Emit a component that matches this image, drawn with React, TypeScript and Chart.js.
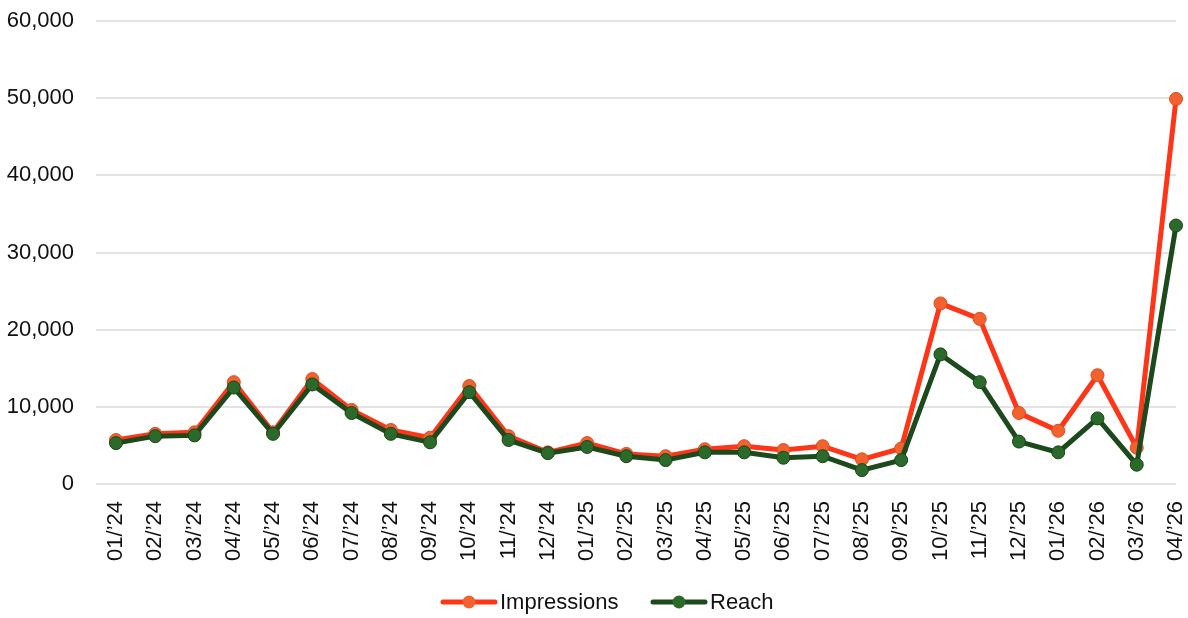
import React, { useEffect, useRef } from "react";
import { Chart, registerables } from "chart.js";

Chart.register(...registerables);

const months: string[] = [
  "01/’24", "02/’24", "03/’24", "04/’24", "05/’24", "06/’24", "07/’24", "08/’24", "09/’24", "10/’24", "11/’24", "12/’24",
  "01/’25", "02/’25", "03/’25", "04/’25", "05/’25", "06/’25", "07/’25", "08/’25", "09/’25", "10/’25", "11/’25", "12/’25",
  "01/’26", "02/’26", "03/’26", "04/’26",
];

const impressions: number[] = [
  5700, 6500, 6700, 13200, 6700, 13600, 9600, 7000, 6000, 12700, 6200, 4100,
  5300, 3900, 3600, 4500, 4900, 4400, 4900, 3200, 4600, 23400, 21400, 9200,
  6900, 14100, 4700, 49900,
];

const reach: number[] = [
  5300, 6200, 6300, 12500, 6500, 12900, 9200, 6500, 5400, 11900, 5700, 4000,
  4800, 3600, 3100, 4100, 4100, 3400, 3600, 1800, 3100, 16800, 13200, 5500,
  4100, 8500, 2500, 33500,
];

const yTicks: number[] = [0, 10000, 20000, 30000, 40000, 50000, 60000];

const IMP_LINE = "#ff3518";
const IMP_POINT = "#f0622e";
const IMP_POINT_BORDER = "#e24a1e";
const REACH_LINE = "#1c4a1c";
const REACH_POINT = "#2c6a2c";
const REACH_POINT_BORDER = "#1a451a";
const TEXT = "#111111";
const FONT = "'Liberation Sans', Arial, sans-serif";

const legendPlugin = {
  id: "customLegend",
  afterDraw(chart: any) {
    const ctx = chart.ctx as CanvasRenderingContext2D;
    const items = [
      { label: "Impressions", line: IMP_LINE, point: IMP_POINT, x: 441 },
      { label: "Reach", line: REACH_LINE, point: REACH_POINT, x: 651 },
    ];
    ctx.save();
    ctx.font = `22px ${FONT}`;
    const lineW = 56;
    const gap = 3;
    const y = 602;
    items.forEach((it) => {
      const x = it.x;
      ctx.strokeStyle = it.line;
      ctx.lineWidth = 5;
      ctx.lineCap = "round";
      ctx.beginPath();
      ctx.moveTo(x + 2, y);
      ctx.lineTo(x + lineW - 2, y);
      ctx.stroke();
      ctx.fillStyle = it.point;
      ctx.beginPath();
      ctx.arc(x + lineW / 2, y, 6.5, 0, Math.PI * 2);
      ctx.fill();
      ctx.fillStyle = TEXT;
      ctx.textBaseline = "middle";
      ctx.textAlign = "left";
      ctx.fillText(it.label, x + lineW + gap, y + 1);
    });
    ctx.restore();
  },
};

export default function App() {
  const canvasRef = useRef<HTMLCanvasElement | null>(null);

  useEffect(() => {
    document.body.style.margin = "0";
    const canvas = canvasRef.current;
    if (!canvas) return;
    const chart = new Chart(canvas, {
      type: "line",
      data: {
        labels: months,
        datasets: [
          {
            label: "Impressions",
            data: impressions,
            borderColor: IMP_LINE,
            backgroundColor: IMP_POINT,
            pointBackgroundColor: IMP_POINT,
            pointBorderColor: IMP_POINT_BORDER,
            borderWidth: 5,
            pointRadius: 6.5,
            pointBorderWidth: 1,
            tension: 0,
            order: 1,
          },
          {
            label: "Reach",
            data: reach,
            borderColor: REACH_LINE,
            backgroundColor: REACH_POINT,
            pointBackgroundColor: REACH_POINT,
            pointBorderColor: REACH_POINT_BORDER,
            borderWidth: 5,
            pointRadius: 6.5,
            pointBorderWidth: 1,
            tension: 0,
            order: 0,
          },
        ],
      },
      options: {
        animation: false,
        responsive: true,
        maintainAspectRatio: false,
        layout: { padding: { left: 0, right: 12, top: 21, bottom: 54 } },
        plugins: {
          legend: { display: false },
          tooltip: { enabled: false },
        },
        scales: {
          x: {
            offset: false,
            grid: { display: false, drawTicks: false },
            border: { display: false },
            afterFit: (scale: any) => {
              scale.paddingLeft = 0;
              scale.paddingRight = 0;
              scale.height = 80;
            },
            ticks: {
              minRotation: 90,
              maxRotation: 90,
              autoSkip: false,
              padding: 17,
              color: TEXT,
              font: { family: FONT, size: 22 },
            },
          },
          y: {
            min: 0,
            max: 60000,
            afterBuildTicks: (axis: any) => {
              axis.ticks = yTicks.map((v) => ({ value: v }));
            },
            afterFit: (scale: any) => {
              scale.paddingTop = 0;
              scale.paddingBottom = 0;
              scale.width = 116;
            },
            grid: { color: "#e3e3e3", lineWidth: 2, tickLength: 20 },
            border: { display: false },
            ticks: {
              padding: 22,
              color: TEXT,
              font: { family: FONT, size: 22 },
              callback: (v: any) => Number(v).toLocaleString("en-US"),
            },
          },
        },
      },
      plugins: [legendPlugin],
    });
    return () => chart.destroy();
  }, []);

  return (
    <div style={{ width: 1188, height: 618, position: "relative" }}>
      <canvas ref={canvasRef} />
    </div>
  );
}
